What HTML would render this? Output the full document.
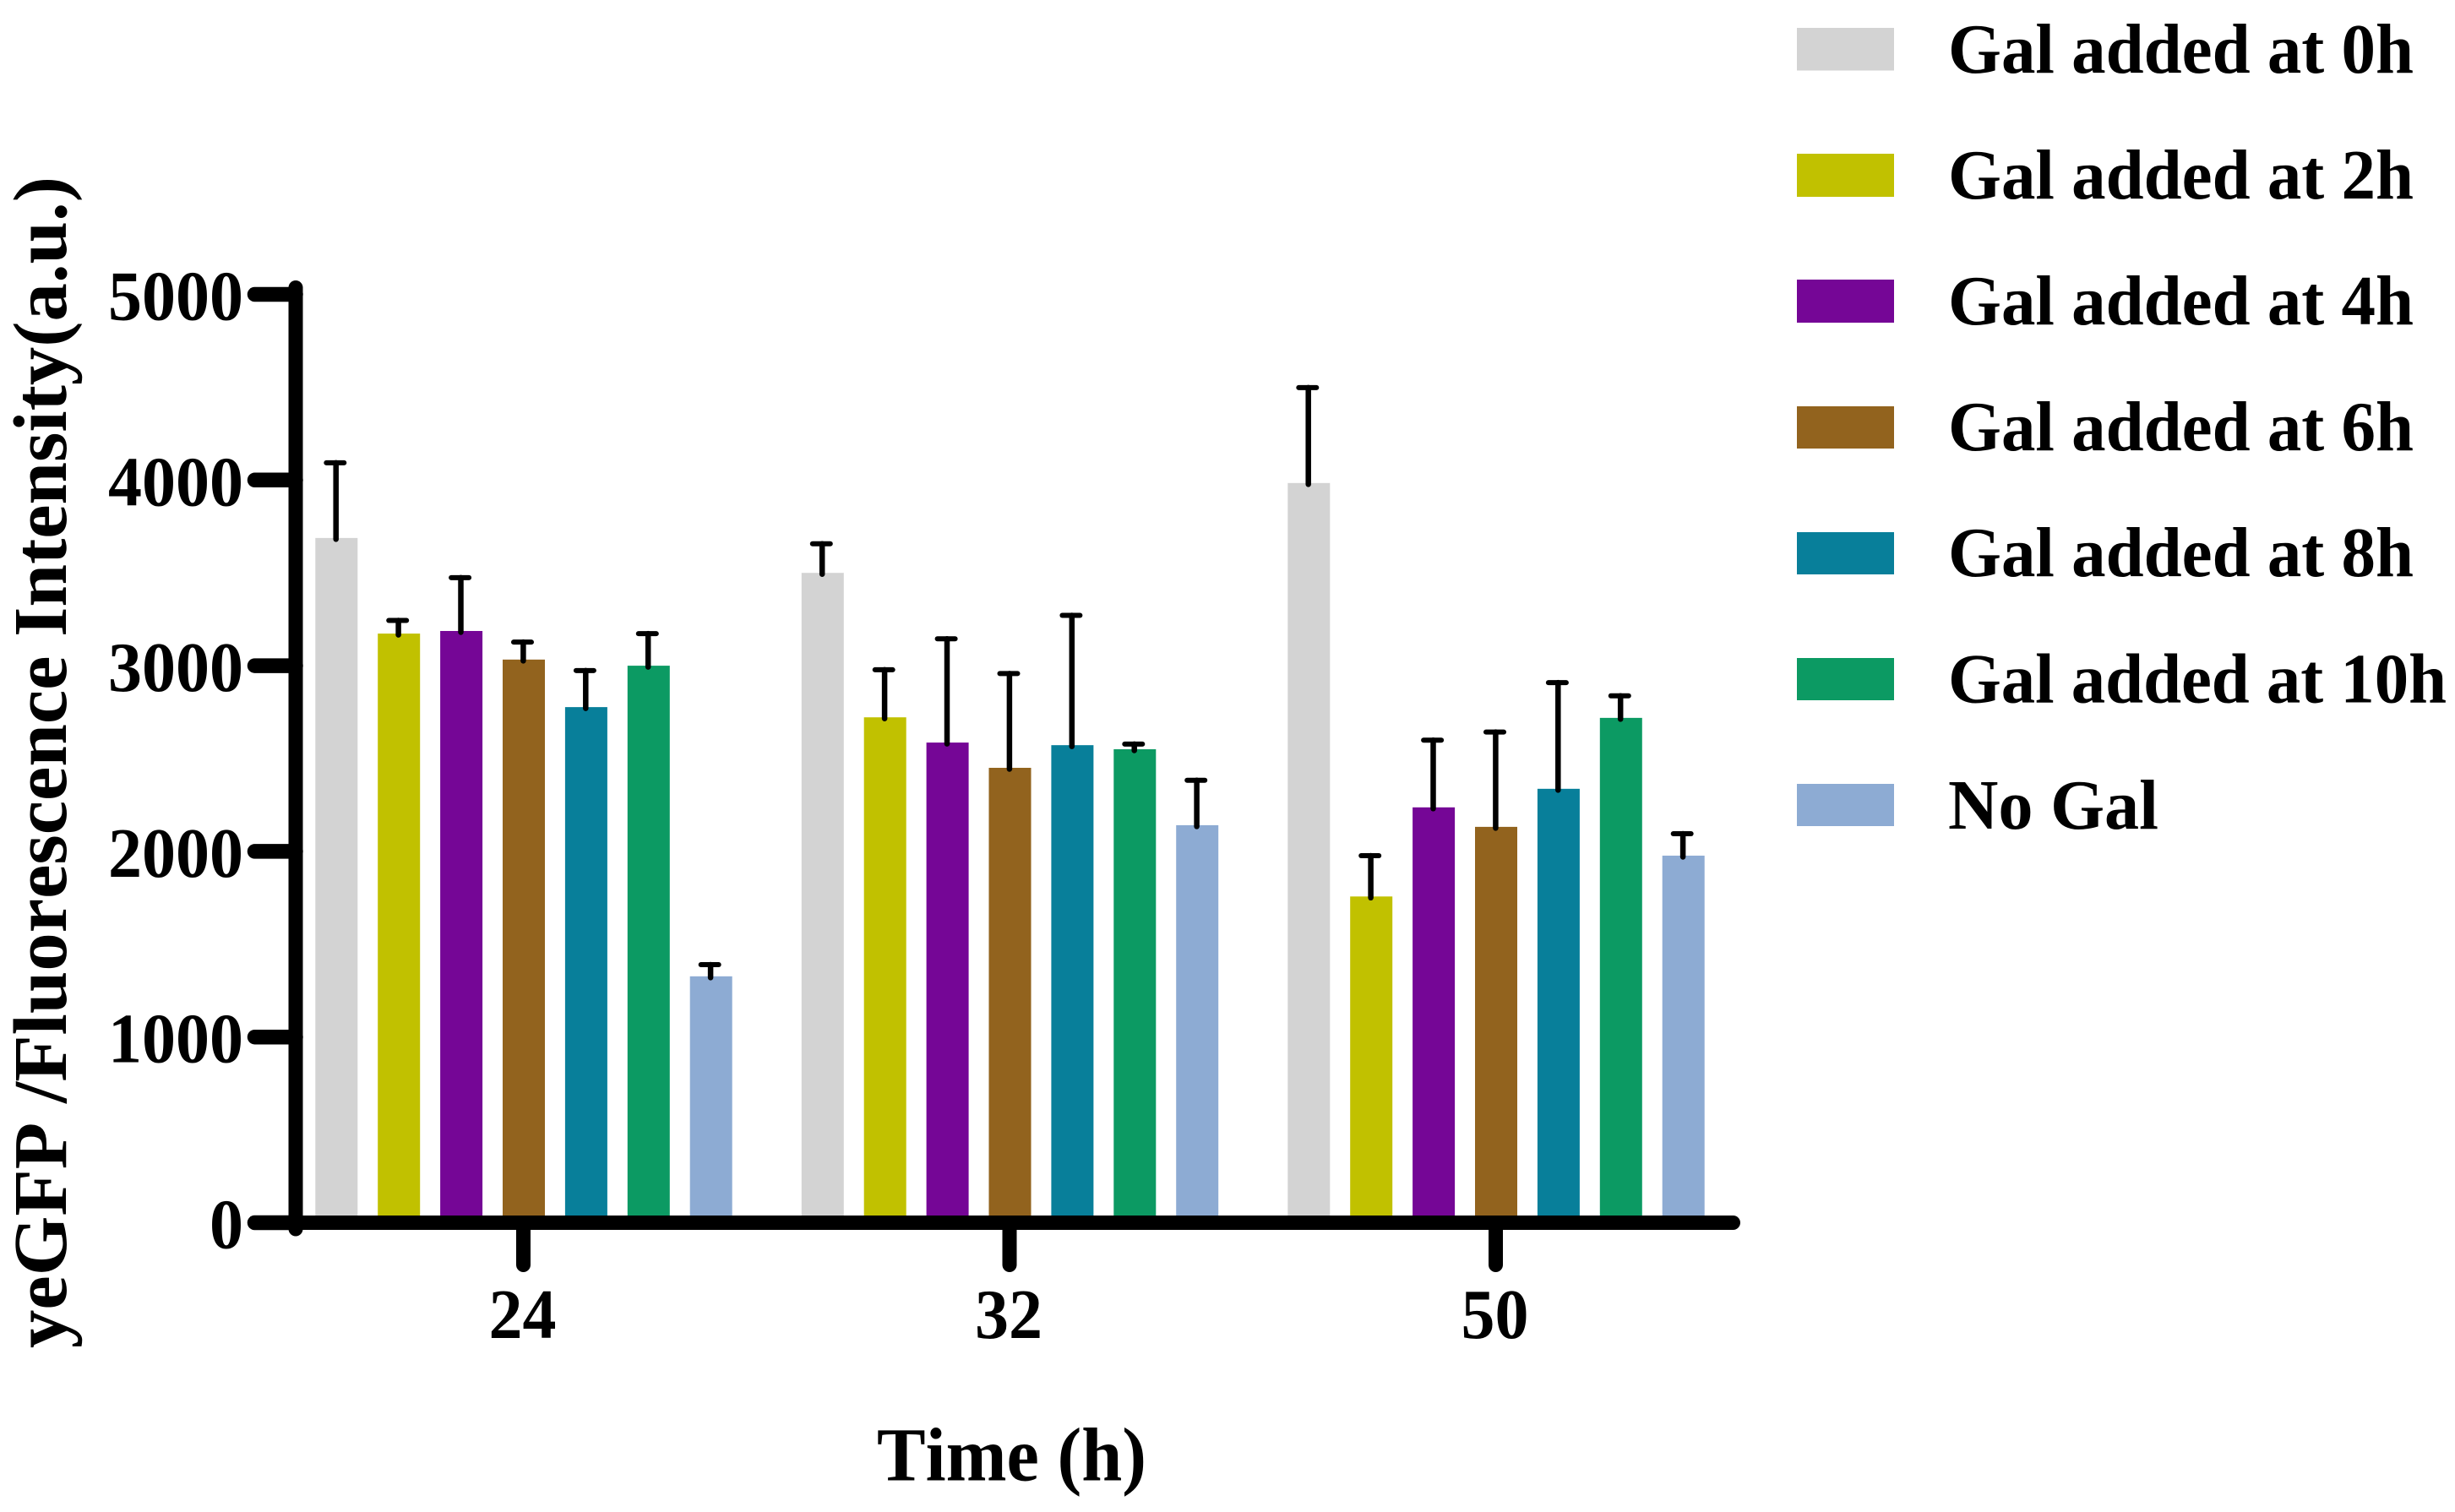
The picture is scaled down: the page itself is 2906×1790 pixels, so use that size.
<!DOCTYPE html>
<html lang="en">
<head>
<meta charset="utf-8">
<title>yeGFP fluorescence intensity over time</title>
<style>
  html, body { margin: 0; padding: 0; background: #ffffff; }
  svg { display: block; }
  text { font-family: "Liberation Serif", serif; font-weight: bold; fill: #000; font-kerning: none; }
</style>
</head>
<body>
<svg id="chart" xmlns="http://www.w3.org/2000/svg" width="2906" height="1790" viewBox="0 0 2906 1790">
  <rect x="0" y="0" width="2906" height="1790" fill="#ffffff"/>
  <g id="bars"></g>
  <g id="axes"></g>

  <text transform="translate(78 1596) rotate(-90)" font-size="90" textLength="1387" lengthAdjust="spacingAndGlyphs">yeGFP /Fluorescence Intensity(a.u.)</text>
  <text x="1038" y="1752.5" font-size="90" textLength="319" lengthAdjust="spacingAndGlyphs">Time (h)</text>

  <g>
    <g>
      <rect x="2127" y="33" width="115" height="50.5" fill="#D3D3D3"/>
      <text x="2306" y="86" font-size="84" textLength="551" lengthAdjust="spacingAndGlyphs">Gal added at 0h</text>
    </g>
    <g>
      <rect x="2127" y="182" width="115" height="51" fill="#C1C100"/>
      <text x="2306" y="235" font-size="84" textLength="551" lengthAdjust="spacingAndGlyphs">Gal added at 2h</text>
    </g>
    <g>
      <rect x="2127" y="331" width="115" height="51" fill="#750696"/>
      <text x="2306" y="384" font-size="84" textLength="551" lengthAdjust="spacingAndGlyphs">Gal added at 4h</text>
    </g>
    <g>
      <rect x="2127" y="481" width="115" height="50" fill="#92631E"/>
      <text x="2306" y="533" font-size="84" textLength="551" lengthAdjust="spacingAndGlyphs">Gal added at 6h</text>
    </g>
    <g>
      <rect x="2127" y="630" width="115" height="50" fill="#087F9A"/>
      <text x="2306" y="682" font-size="84" textLength="551" lengthAdjust="spacingAndGlyphs">Gal added at 8h</text>
    </g>
    <g>
      <rect x="2127" y="779" width="115" height="50" fill="#0C9A63"/>
      <text x="2306" y="831.5" font-size="84" textLength="590" lengthAdjust="spacingAndGlyphs">Gal added at 10h</text>
    </g>
    <g>
      <rect x="2127" y="928" width="115" height="50" fill="#8DABD3"/>
      <text x="2306" y="981" font-size="84" textLength="249" lengthAdjust="spacingAndGlyphs">No Gal</text>
    </g>
  </g>
</svg>
<script>
const categories = ['24', '32', '50'];
const yTicks = [0, 1000, 2000, 3000, 4000, 5000];

const seriesNames = ['gal-0h', 'gal-2h', 'gal-4h', 'gal-6h', 'gal-8h', 'gal-10h', 'no-gal'];
const seriesColors = ['#D3D3D3', '#C1C100', '#750696', '#92631E', '#087F9A', '#0C9A63', '#8DABD3'];

const gal0Mean = [3688, 3500, 3984];
const gal2Mean = [3173, 2722, 1757];
const gal4Mean = [3187, 2586, 2237];
const gal6Mean = [3033, 2450, 2132];
const gal8Mean = [2777, 2572, 2337];
const gal10Mean = [3000, 2550, 2719];
const noGalMean = [1327, 2141, 1977];

const gal0Err = [405, 157, 514];
const gal2Err = [71, 256, 220];
const gal4Err = [287, 559, 362];
const gal6Err = [94, 508, 511];
const gal8Err = [197, 699, 572];
const gal10Err = [173, 28, 119];
const noGalErr = [63, 242, 118];

const meanSeries = [gal0Mean, gal2Mean, gal4Mean, gal6Mean, gal8Mean, gal10Mean, noGalMean];
const errSeries = [gal0Err, gal2Err, gal4Err, gal6Err, gal8Err, gal10Err, noGalErr];

const SVG_NS = 'http://www.w3.org/2000/svg';
const barsLayer = document.getElementById('bars');
const axesLayer = document.getElementById('axes');

function yScale(value) {
  return 1447.5 - value * 0.2198;
}
function xGroup(groupIndex) {
  return 620 + groupIndex * 575.5;
}
function xBar(groupIndex, seriesIndex) {
  return xGroup(groupIndex) + (seriesIndex - (seriesNames.length - 1) / 2) * 73.9;
}
function make(tag, attrs, parent) {
  const el = document.createElementNS(SVG_NS, tag);
  for (const key in attrs) el.setAttribute(key, attrs[key]);
  parent.appendChild(el);
  return el;
}

const BAR_W = 50;

categories.forEach(function (cat, g) {
  seriesNames.forEach(function (name, s) {
    const mean = meanSeries[s][g];
    const err = errSeries[s][g];
    const cx = xBar(g, s);
    const top = yScale(mean);
    const errTop = yScale(mean + err);

    const bar = make('rect', { x: cx - BAR_W / 2, y: top, width: BAR_W, height: yScale(0) - top, fill: seriesColors[s] }, barsLayer);
    
    

    const stem = make('line', { x1: cx - 0.6, x2: cx - 0.6, y1: errTop, y2: top + 1.5, stroke: '#000', 'stroke-width': 6.5, 'stroke-linecap': 'round' }, barsLayer);
    
    

    const cap = make('line', { x1: cx - 12, x2: cx + 9, y1: errTop, y2: errTop, stroke: '#000', 'stroke-width': 6, 'stroke-linecap': 'round' }, barsLayer);
    
    
  });
});

const yAxisLine = make('line', { x1: 350, x2: 350, y1: yScale(5000) - 8, y2: 1455, stroke: '#000', 'stroke-width': 17, 'stroke-linecap': 'round' }, axesLayer);



const xAxisLine = make('line', { x1: 301.5, x2: 2051.5, y1: yScale(0), y2: yScale(0), stroke: '#000', 'stroke-width': 17, 'stroke-linecap': 'round' }, axesLayer);



yTicks.forEach(function (tick) {
  const y = yScale(tick);
  const mark = make('line', { x1: 301.5, x2: 350, y1: y, y2: y, stroke: '#000', 'stroke-width': 17.5, 'stroke-linecap': 'round' }, axesLayer);
  
  

  const label = make('text', { x: 288, y: y + 30, 'font-size': 84, 'text-anchor': 'end', textLength: String(tick).length * 40, lengthAdjust: 'spacingAndGlyphs' }, axesLayer);
  label.textContent = String(tick);
  
  
});

categories.forEach(function (cat, g) {
  const x = xGroup(g) - 0.5;
  const mark = make('line', { x1: x, x2: x, y1: yScale(0), y2: 1497.5, stroke: '#000', 'stroke-width': 17, 'stroke-linecap': 'round' }, axesLayer);
  
  

  const label = make('text', { x: x - 1, y: 1584, 'font-size': 84, 'text-anchor': 'middle', textLength: cat.length * 40, lengthAdjust: 'spacingAndGlyphs' }, axesLayer);
  label.textContent = cat;
  
  
});
</script>
</body>
</html>
